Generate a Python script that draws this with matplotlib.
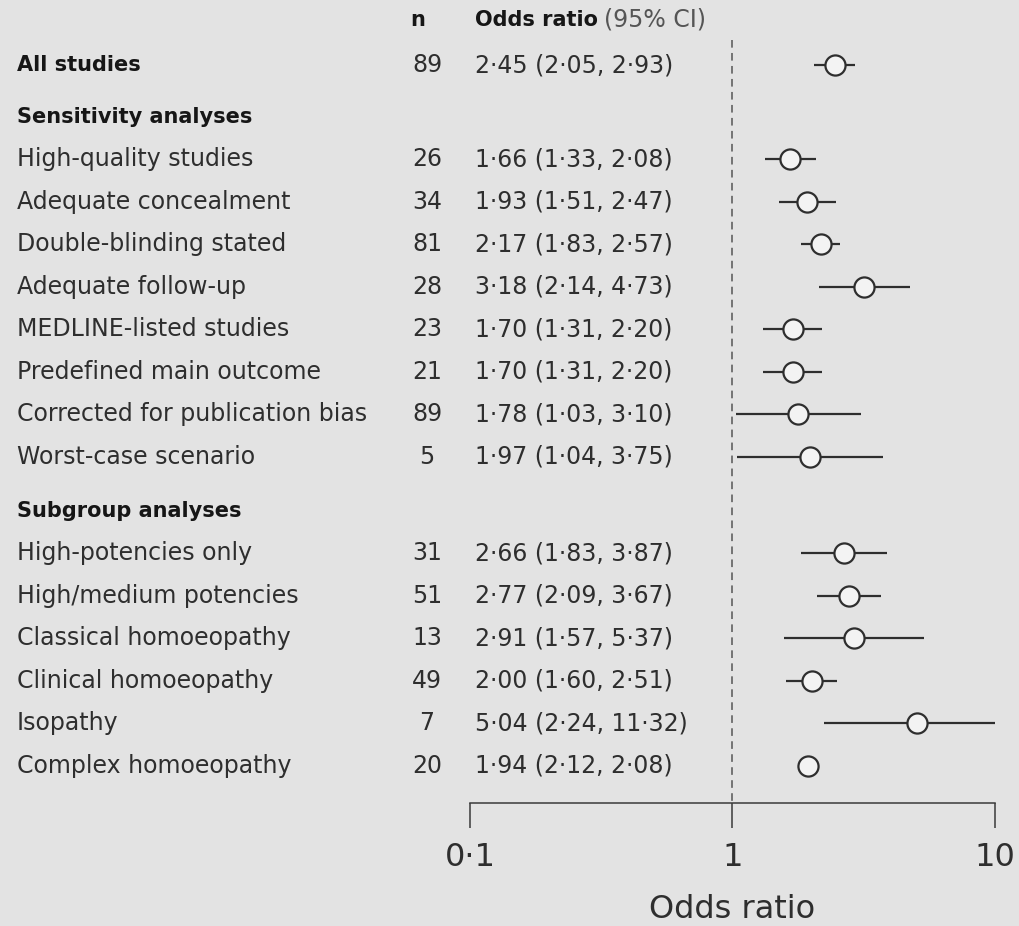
import numpy as np
import matplotlib.pyplot as plt
from matplotlib.transforms import blended_transform_factory

# overall estimate
all_n = 89
all_or, all_lo, all_hi = 2.45, 2.05, 2.93

# sensitivity analyses
sens_labels = ["High-quality studies", "Adequate concealment", "Double-blinding stated",
               "Adequate follow-up", "MEDLINE-listed studies", "Predefined main outcome",
               "Corrected for publication bias", "Worst-case scenario"]
sens_n = [26, 34, 81, 28, 23, 21, 89, 5]
sens_or = [1.66, 1.93, 2.17, 3.18, 1.70, 1.70, 1.78, 1.97]
sens_lo = [1.33, 1.51, 1.83, 2.14, 1.31, 1.31, 1.03, 1.04]
sens_hi = [2.08, 2.47, 2.57, 4.73, 2.20, 2.20, 3.10, 3.75]

# subgroup analyses
sub_labels = ["High-potencies only", "High/medium potencies", "Classical homoeopathy",
              "Clinical homoeopathy", "Isopathy", "Complex homoeopathy"]
sub_n = [31, 51, 13, 49, 7, 20]
sub_or = [2.66, 2.77, 2.91, 2.00, 5.04, 1.94]
sub_lo = [1.83, 2.09, 1.57, 1.60, 2.24, 2.12]
sub_hi = [3.87, 3.67, 5.37, 2.51, 11.32, 2.08]

tick_vals = [0.1, 1, 10]
tick_labels = ["0·1", "1", "10"]

BG = "#e3e3e3"
DARK = "#2e2e2e"
W, H = 1020, 926
ROW = 42.5          # pixels per row
AX_BOTTOM = 803     # pixel row of the axis line


def fmt(v):
    return f"{v:.2f}".replace(".", "·")


def main():
    fig = plt.figure(figsize=(W / 100, H / 100), dpi=100, facecolor=BG)
    ax = fig.add_axes([470 / W, (H - AX_BOTTOM) / H, 525 / W, AX_BOTTOM / H])
    ax.set_facecolor(BG)
    ax.set_xscale("log")
    ax.set_xlim(0.1, 10)
    ax.set_ylim(AX_BOTTOM / ROW, 0)

    # build rows: (y, label, bold, n, or, lo, hi)
    rows = []
    y = 1.53
    rows.append((y, "All studies", True, all_n, all_or, all_lo, all_hi))
    for head, labs, ns, ors, los, his, gap in [
            ("Sensitivity analyses", sens_labels, sens_n, sens_or, sens_lo, sens_hi, 1.22),
            ("Subgroup analyses", sub_labels, sub_n, sub_or, sub_lo, sub_hi, 1.27)]:
        y += gap
        rows.append((y, head, True, None, None, None, None))
        for lab, n, o, lo, hi in zip(labs, ns, ors, los, his):
            y += 1
            rows.append((y, lab, False, n, o, lo, hi))

    tr = blended_transform_factory(fig.transFigure, ax.transData)
    for (yy, lab, bold, n, o, lo, hi) in rows:
        if bold:
            ax.text(17 / W, yy, lab, transform=tr, va="center", ha="left",
                    fontsize=15, fontweight="bold", color="#161616")
        else:
            ax.text(17 / W, yy, lab, transform=tr, va="center", ha="left",
                    fontsize=17, color=DARK)
        if n is None:
            continue
        ax.text(427 / W, yy, str(n), transform=tr, va="center", ha="center",
                fontsize=17, color=DARK)
        ax.text(475 / W, yy, f"{fmt(o)} ({fmt(lo)}, {fmt(hi)})", transform=tr,
                va="center", ha="left", fontsize=17, color=DARK)
        ax.hlines(yy, lo, hi, color=DARK, lw=1.6, zorder=3)
        ax.plot(o, yy, "o", ms=14.5, mfc="#f3f3f3", mec=DARK, mew=1.6, zorder=4)

    # column headings
    yh = 20 / ROW
    ax.text(418 / W, yh, "n", transform=tr, va="center", ha="center",
            fontsize=15, fontweight="bold", color="#161616")
    t1 = ax.text(475 / W, yh, "Odds ratio", transform=tr, va="center", ha="left",
                 fontsize=15, fontweight="bold", color="#161616")
    fig.canvas.draw()
    bb = t1.get_window_extent()
    ax.text(bb.x1 / W + 6 / W, yh, "(95% CI)", transform=tr, va="center", ha="left",
            fontsize=17, color="#555555")

    # line of no effect
    ax.vlines(1, 40 / ROW, AX_BOTTOM / ROW, color="#555555", lw=1.1,
              linestyles=(0, (5, 3.5)), zorder=1)

    for side in ["top", "right", "left"]:
        ax.spines[side].set_visible(False)
    ax.spines["bottom"].set_color("#3a3a3a")
    ax.spines["bottom"].set_linewidth(1.1)
    ax.set_yticks([])
    ax.set_xticks(tick_vals)
    ax.set_xticklabels(tick_labels)
    ax.minorticks_off()
    ax.tick_params(axis="x", length=18, width=1.1, color="#3a3a3a", pad=10,
                   labelsize=23, labelcolor=DARK)
    ax.set_xlabel("Odds ratio", fontsize=23, color=DARK, labelpad=15)

    fig.savefig("out.png", dpi=100, facecolor=BG)


if __name__ == "__main__":
    main()
